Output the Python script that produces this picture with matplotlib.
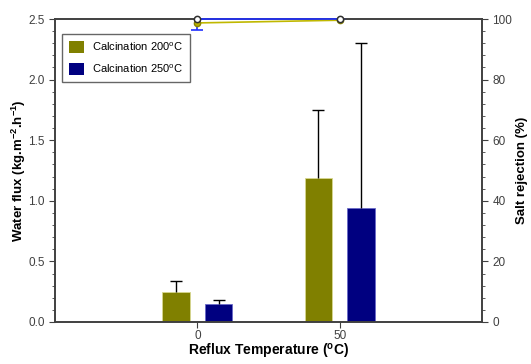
import numpy as np
import matplotlib.pyplot as plt
from matplotlib.ticker import MultipleLocator
from matplotlib.patches import Patch

plt.rcParams['font.family'] = ['Liberation Sans', 'DejaVu Sans']
plt.rcParams['mathtext.default'] = 'regular'

# Data
temps = np.array([0, 50])
flux_200 = np.array([0.25, 1.19])
flux_200_err = np.array([0.09, 0.56])
flux_250 = np.array([0.15, 0.94])
flux_250_err = np.array([0.03, 1.36])

rej_200 = np.array([98.7, 99.6])
rej_250 = np.array([100.0, 100.0])
rej_250_err_low = np.array([3.6, 0.0])

labels = ['Calcination 200$^o$C', 'Calcination 250$^o$C']
olive = '#808000'
navy = '#000080'

fig = plt.figure(figsize=(5.31, 3.64), dpi=100)
ax = fig.add_axes([0.1036, 0.1154, 0.8041, 0.8324])

w = 9.5
ax.bar(temps - 7.5, flux_200, width=w, color=olive, edgecolor='#d8d890', linewidth=0.6)
ax.bar(temps + 7.5, flux_250, width=w, color=navy, edgecolor='#6a6ac8', linewidth=0.6)
# upper error bars only: hide the lower caps
for x, y, e in ((temps - 7.5, flux_200, flux_200_err), (temps + 7.5, flux_250, flux_250_err)):
    eb = ax.errorbar(x, y, yerr=[np.zeros(2), e], fmt='none',
                     ecolor='black', elinewidth=1, capsize=4, capthick=1)
    eb[1][0].set_visible(False)

ax.set_xlim(-50, 100)
ax.set_ylim(0, 2.5)
ax.set_xticks([0, 50])
ax.yaxis.set_major_locator(MultipleLocator(0.5))
ax.yaxis.set_minor_locator(MultipleLocator(0.1))
ax.tick_params(axis='both', which='both', direction='out', labelsize=8.5, labelcolor='#404040', color='#404040')
ax.tick_params(axis='y', which='major', length=4)
ax.tick_params(axis='y', which='minor', length=2.5)
ax.tick_params(axis='x', which='major', length=4, pad=2)
ax.yaxis.set_major_formatter(plt.FormatStrFormatter('%.1f'))

ax.set_xlabel('Reflux Temperature ($^o$C)', fontsize=10, fontweight='bold', labelpad=0)
ax.set_ylabel('Water flux (kg.m$^{-2}$.h$^{-1}$)', fontsize=9.5, fontweight='bold', labelpad=0)

ax2 = ax.twinx()
ax2.plot(temps, rej_200, color='#c0b800', lw=1.2, marker='o', ms=4.5,
         mfc='#b8b000', mec='#8a8400', clip_on=False, zorder=3)
eb = ax2.errorbar(temps, rej_250, yerr=[rej_250_err_low, np.zeros(2)], fmt='none',
                  ecolor='#2030ff', elinewidth=1.2, capsize=4, capthick=1.2, clip_on=False)
eb[1][1].set_visible(False)
ax2.plot(temps, rej_250, color='#2030ff', lw=1.2, marker='o', ms=4.5,
         mfc='white', mec='#303030', mew=1.1, clip_on=False, zorder=4)
ax2.set_ylim(0, 100)
ax2.yaxis.set_major_locator(MultipleLocator(20))
ax2.yaxis.set_minor_locator(MultipleLocator(4))
ax2.tick_params(axis='y', which='both', direction='out', labelsize=8.5, labelcolor='#404040', color='#404040')
ax2.tick_params(axis='y', which='major', length=4)
ax2.tick_params(axis='y', which='minor', length=2.5)
ax2.set_ylabel('Salt rejection (%)', fontsize=9.5, fontweight='bold', labelpad=3)

for a in (ax, ax2):
    for s in a.spines.values():
        s.set_color('#404040')
        s.set_linewidth(1.2)

handles = [Patch(facecolor=olive, edgecolor='none'), Patch(facecolor=navy, edgecolor='none')]
leg = ax.legend(handles, labels, loc='upper left', bbox_to_anchor=(0.004, 0.97), fontsize=8,
                frameon=True, fancybox=False, edgecolor='#404040', handlelength=1.4,
                handleheight=1.4, labelspacing=0.8, borderpad=0.6, handletextpad=0.7)
leg.get_frame().set_linewidth(1.0)

fig.savefig('out.png', dpi=100)
